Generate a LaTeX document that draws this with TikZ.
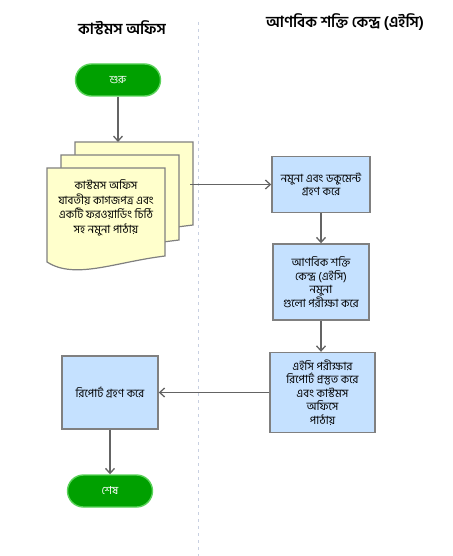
\documentclass[tikz,border=0pt]{standalone}
\usepackage{fontspec}
\newfontfamily\bn[Script=Bengali]{Hind Siliguri}
\usetikzlibrary{arrows.meta}
\definecolor{boxfill}{RGB}{197,225,255}
\definecolor{boxline}{RGB}{128,128,128}
\definecolor{docfill}{RGB}{255,255,204}
\definecolor{termfill}{RGB}{0,160,0}
\definecolor{termline}{RGB}{90,210,90}
\definecolor{arrowc}{RGB}{100,100,100}
\definecolor{lanec}{RGB}{200,208,225}
\tikzset{
  procbox/.style={draw=boxline, fill=boxfill, line width=1.4pt, align=center,
    font=\bn\fontsize{11.3}{13.5}\selectfont, inner sep=2pt},
  term/.style={draw=termline, fill=termfill, line width=1.4pt, rounded corners=16pt,
    minimum width=85pt, minimum height=32pt, text=white, font=\bn\fontsize{11}{12}\selectfont},
  docshape/.style={draw=boxline, fill=docfill, line width=1.2pt},
  conn/.style={draw=arrowc, line width=1.3pt, -{Straight Barb[length=5pt,width=9pt]}},
  lane/.style={draw=lanec, line width=1pt, dash pattern=on 3pt off 4pt},
  hdr/.style={font=\bn\bfseries\fontsize{15.3}{17}\selectfont}
}
\begin{document}
\begin{tikzpicture}[x=1pt,y=-1pt]
\useasboundingbox (0,0) rectangle (452,556);
% lane divider
\draw[lane] (198,22) -- (198,556);
% headers
\node[hdr] (hl) at (122,28) {কাস্টমস অফিস};
\node[hdr] (hr) at (345,22) {আণবিক শক্তি কেন্দ্র (এইসি)};
% start
\node[term] (start) at (118,80) {শুরু};
% multi-document
\foreach \dx/\dy/\h/\hr in {28/-26/80/83, 14/-13/82/85, 0/0/94/88}{
  \draw[docshape] (47+\dx,168+\dy) -- (165+\dx,168+\dy) -- (165+\dx,168+\dy+\hr)
    .. controls (115+\dx,168+\dy+\hr+6) and (75+\dx,168+\dy+\h+18) .. (47+\dx,168+\dy+\h) -- cycle;
}
\node[align=center, font=\bn\fontsize{11.3}{14.5}\selectfont] (doc) at (106,208)
  {কাস্টমস অফিস\\যাবতীয় কাগজপত্র এবং\\একটি ফরওয়ার্ডিং চিঠি\\সহ নমুনা পাঠায়};
\coordinate (docT) at (118,142);
\coordinate (docR) at (190,184.5);
% process boxes
\node[procbox, minimum width=98pt, minimum height=56pt] (b1) at (321,184.5)
  {নমুনা এবং ডকুমেন্ট\\গ্রহণ করে};
\node[procbox, minimum width=96pt, minimum height=76pt] (b2) at (321,282)
  {আণবিক শক্তি\\কেন্দ্র (এইসি)\\নমুনা\\গুলো পরীক্ষা করে};
\node[procbox, minimum width=105pt, minimum height=80pt] (b3) at (322.5,392.5)
  {এইসি পরীক্ষার\\রিপোর্ট প্রস্তুত করে\\এবং কাস্টমস\\অফিসে\\পাঠায়};
\node[procbox, minimum width=96pt, minimum height=73pt] (b4) at (110,392.5)
  {রিপোর্ট গ্রহণ করে};
\node[term] (end) at (110,491) {শেষ};
% connectors
\draw[conn] (start) -- (docT);
\draw[conn] (docR) -- (b1.west);
\draw[conn] (b1) -- (b2);
\draw[conn] (b2) -- (b2.south |- b3.north);
\draw[conn] (b3.west) -- (b4.east);
\draw[conn] (b4) -- (end);
\end{tikzpicture}
\end{document}
